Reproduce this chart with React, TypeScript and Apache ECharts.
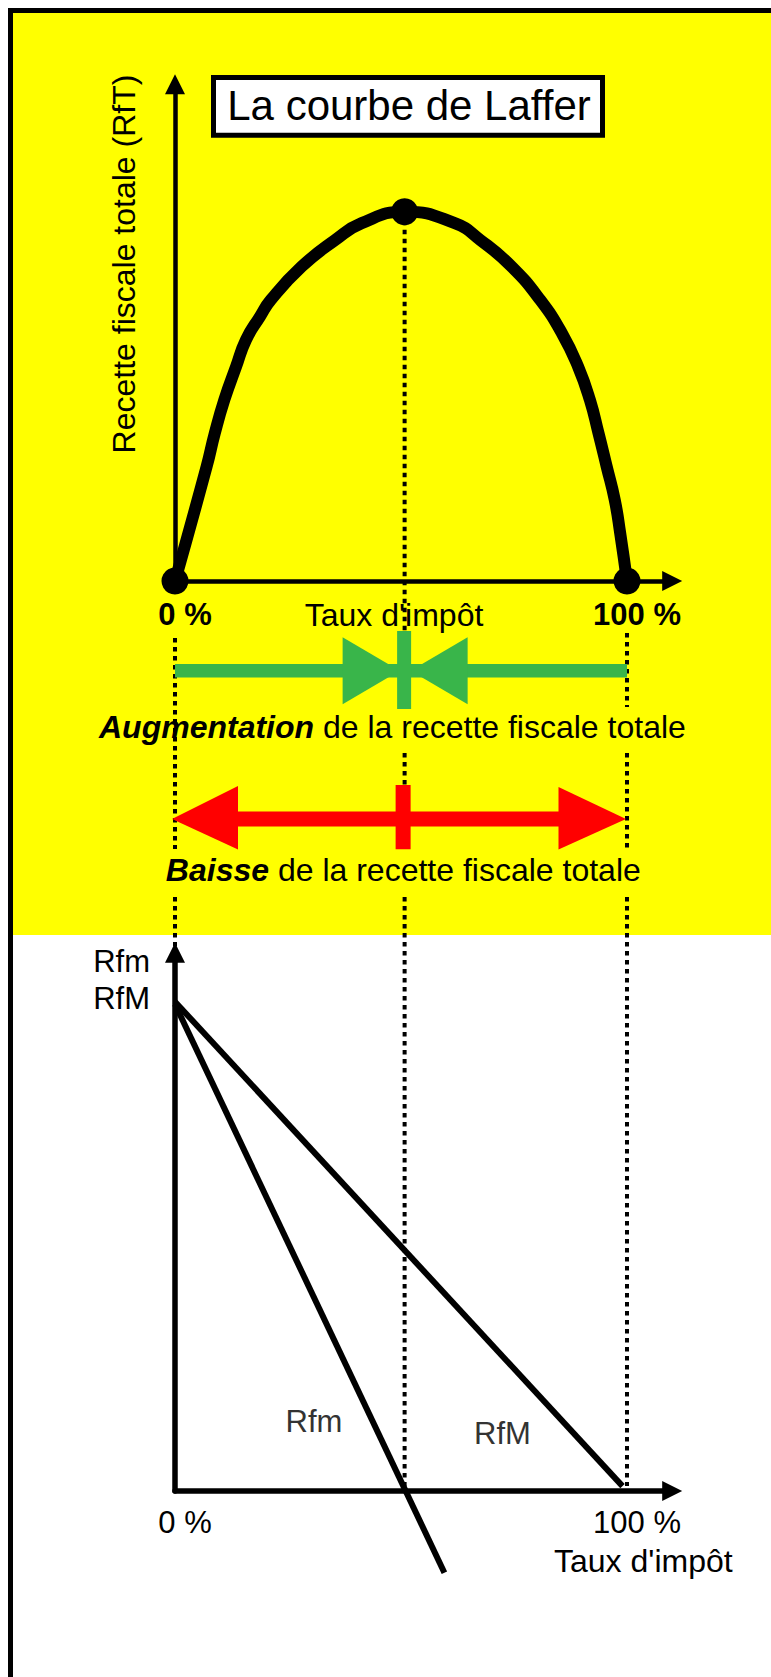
import React, { useEffect, useRef } from 'react';
import * as echarts from 'echarts';

// ---------- data ----------
const lafferX = [0, 7.0, 8.8, 10.9, 13.5, 15.7, 18.8, 21.2, 28.0, 35.4, 41.3, 50.8, 61.9, 67.6, 74.5, 80.8, 85.6, 89.2, 91.8, 93.7, 95.5, 97.3, 98.5, 100];
const lafferY = [0, 31.0, 40.0, 49.0, 58.0, 65.3, 71.6, 76.1, 85.1, 92.3, 96.9, 100, 96.9, 92.3, 85.1, 76.1, 67.1, 58.0, 49.0, 40.0, 31.0, 21.9, 12.9, 0];
const keyPointsX = [0, 50.8, 100];
const keyPointsY = [0, 100, 0];
const rfmX = [0, 59.6];
const rfmY = [99.5, -16.7];
const rfMX = [0, 99];
const rfMY = [100, 1];
const tickValues = [0, 100];
const tickLabels = ['0 %', '100 %'];

const W = 771;
const H = 1677;
const FONT = '"Liberation Sans", Arial, Helvetica, sans-serif';

const zip = (xs: number[], ys: number[]) => xs.map((x, i) => [x, ys[i]]);
const fmtTick = (v: number) => {
  const i = tickValues.indexOf(v);
  return i >= 0 ? tickLabels[i] : '';
};

export default function App() {
  const ref = useRef<HTMLDivElement>(null);

  useEffect(() => {
    if (!ref.current) return;
    const chart = echarts.init(ref.current, null, { renderer: 'svg', width: W, height: H });

    const axisBase = (lineWidth: number) => ({
      axisLine: {
        show: true,
        symbol: ['none', 'triangle'],
        symbolSize: [20, 20],
        lineStyle: { color: '#000', width: lineWidth },
      },
      axisTick: { show: false },
      splitLine: { show: false },
    });

    const option: any = {
      animation: false,
      backgroundColor: '#ffffff',
      grid: [
        { left: 175, top: 84.3, width: 497.2, height: 496.7 },
        { left: 175, top: 952.8, width: 497.2, height: 538.2 },
      ],
      xAxis: [
        {
          gridIndex: 0, type: 'value', min: 0, max: 110, interval: 100,
          ...axisBase(4.5),
          axisLabel: {
            show: true, showMaxLabel: false, formatter: fmtTick,
            fontFamily: FONT, fontSize: 31, fontWeight: 'bold', color: '#000',
            margin: 17.5, lineHeight: 31, padding: [0, 0, 0, 20],
          },
        },
        {
          gridIndex: 1, type: 'value', min: 0, max: 110, interval: 100,
          ...axisBase(5.5),
          axisLabel: {
            show: true, showMaxLabel: false, formatter: fmtTick,
            fontFamily: FONT, fontSize: 31, color: '#000',
            margin: 16, lineHeight: 31, padding: [0, 0, 0, 20],
          },
        },
      ],
      yAxis: [
        { gridIndex: 0, type: 'value', min: 0, max: 134.5, ...axisBase(4.5), axisLabel: { show: false } },
        { gridIndex: 1, type: 'value', min: 0, max: 110, ...axisBase(5.5), axisLabel: { show: false } },
      ],
      series: [
        {
          type: 'line', xAxisIndex: 0, yAxisIndex: 0, data: zip(lafferX, lafferY),
          smooth: 0.5, showSymbol: false, clip: false,
          lineStyle: { color: '#000', width: 12, join: 'round' }, z: 2,
        },
        {
          type: 'scatter', xAxisIndex: 0, yAxisIndex: 0, data: zip(keyPointsX, keyPointsY),
          symbol: 'circle', symbolSize: 27, clip: false,
          itemStyle: { color: '#000', opacity: 1 }, z: 3,
        },
        {
          type: 'line', xAxisIndex: 1, yAxisIndex: 1, data: zip(rfmX, rfmY),
          showSymbol: false, clip: false, lineStyle: { color: '#000', width: 6 }, z: 2,
        },
        {
          type: 'line', xAxisIndex: 1, yAxisIndex: 1, data: zip(rfMX, rfMY),
          showSymbol: false, clip: false, lineStyle: { color: '#000', width: 6 }, z: 2,
        },
      ],
    };
    chart.setOption(option);

    const topPt = (x: number, y: number) => chart.convertToPixel({ gridIndex: 0 }, [x, y]) as number[];
    const botPt = (x: number, y: number) => chart.convertToPixel({ gridIndex: 1 }, [x, y]) as number[];

    const x0 = topPt(0, 0)[0];
    const xm = topPt(keyPointsX[1], 0)[0];
    const x1 = topPt(100, 0)[0];
    const yPeak = topPt(keyPointsX[1], keyPointsY[1])[1];
    const yBotAxis = botPt(0, 0)[1];
    const yRfMEnd = botPt(rfMX[1], rfMY[1])[1];

    const els: any[] = [];
    // background
    els.push({ type: 'rect', shape: { x: 13, y: 13, width: W - 13, height: 922 }, style: { fill: '#ffff00' }, z: -100, silent: true });
    els.push({ type: 'rect', shape: { x: 8, y: 8, width: 5, height: H - 8 }, style: { fill: '#000' }, z: -99, silent: true });
    els.push({ type: 'rect', shape: { x: 8, y: 8, width: W - 8, height: 5 }, style: { fill: '#000' }, z: -99, silent: true });

    // dotted guide lines
    const dotted = (x: number, a: number, b: number) => ({
      type: 'line', shape: { x1: x, y1: a, x2: x, y2: b },
      style: { stroke: '#000', lineWidth: 4, lineDash: [4.5, 4.5] }, z: 8, silent: true,
    });
    els.push(dotted(xm, yPeak, 707), dotted(xm, 753, 849), dotted(xm, 897, yBotAxis));
    els.push(dotted(x0, 638, 849), dotted(x0, 897, 950));
    els.push(dotted(x1, 633, 707), dotted(x1, 753, 849), dotted(x1, 897, yRfMEnd));

    // green arrows (augmentation)
    const green = '#39b54a';
    const gy = 670.7;
    els.push({ type: 'rect', shape: { x: x0, y: gy - 6.7, width: x1 - x0, height: 13.4 }, style: { fill: green }, z: 9 });
    els.push({ type: 'polygon', shape: { points: [[xm - 62, gy - 33.5], [xm - 62, gy + 33.5], [xm - 5, gy]] }, style: { fill: green }, z: 9 });
    els.push({ type: 'polygon', shape: { points: [[xm + 63, gy - 33.5], [xm + 63, gy + 33.5], [xm + 6, gy]] }, style: { fill: green }, z: 9 });
    els.push({ type: 'rect', shape: { x: xm - 7.5, y: 631, width: 14, height: 78 }, style: { fill: green }, z: 9 });

    // red arrows (baisse)
    const red = '#ff0000';
    const ry = 819;
    els.push({ type: 'rect', shape: { x: x0 + 30, y: ry - 7.5, width: x1 - x0 - 60, height: 15 }, style: { fill: red }, z: 9 });
    els.push({ type: 'polygon', shape: { points: [[x0 - 3, ry], [x0 + 63, ry - 33], [x0 + 63, ry + 30.5]] }, style: { fill: red }, z: 9 });
    els.push({ type: 'polygon', shape: { points: [[x1 - 1, ry], [x1 - 68.5, ry - 32], [x1 - 68.5, ry + 30.5]] }, style: { fill: red }, z: 9 });
    els.push({ type: 'rect', shape: { x: xm - 9, y: 785, width: 15, height: 64.3 }, style: { fill: red }, z: 9 });

    // title box
    els.push({ type: 'rect', shape: { x: 213.5, y: 77.5, width: 389, height: 57.7 }, style: { fill: '#fff', stroke: '#000', lineWidth: 5 }, z: 10 });
    const txt = (text: string, x: number, y: number, size: number, extra: any = {}, align = 'center') => ({
      type: 'text', x, y, z: 11, silent: true,
      style: { text, fontSize: size, fontFamily: FONT, fill: '#000', align, verticalAlign: 'middle', ...extra },
    });
    els.push(txt('La courbe de Laffer', 409, 105.5, 42));
    els.push({ ...txt('Recette fiscale totale (RfT)', 123.5, 264, 32), rotation: Math.PI / 2 });
    els.push(txt("Taux d'impôt", 394, 615, 32));

    const richB = { fontWeight: 'bold', fontStyle: 'italic', fontSize: 32, fontFamily: FONT, fill: '#000' };
    els.push(txt('{b|Augmentation} de la recette fiscale totale', 392.4, 727.3, 32, { rich: { b: richB } }));
    els.push(txt('{b|Baisse} de la recette fiscale totale', 403.3, 870, 32, { rich: { b: richB } }));

    // bottom chart labels
    els.push(txt('Rfm', 150, 961.5, 31, {}, 'right'));
    els.push(txt('RfM', 150, 998.5, 31, {}, 'right'));
    els.push(txt('Rfm', 314, 1421.7, 31, { fill: '#333' }));
    els.push(txt('RfM', 502.5, 1433, 31, { fill: '#333' }));
    els.push(txt("Taux d'impôt", 554, 1561, 32, {}, 'left'));

    chart.setOption({ graphic: { elements: els } });

    return () => chart.dispose();
  }, []);

  return <div ref={ref} style={{ position: 'fixed', left: 0, top: 0, width: W, height: H }} />;
}
